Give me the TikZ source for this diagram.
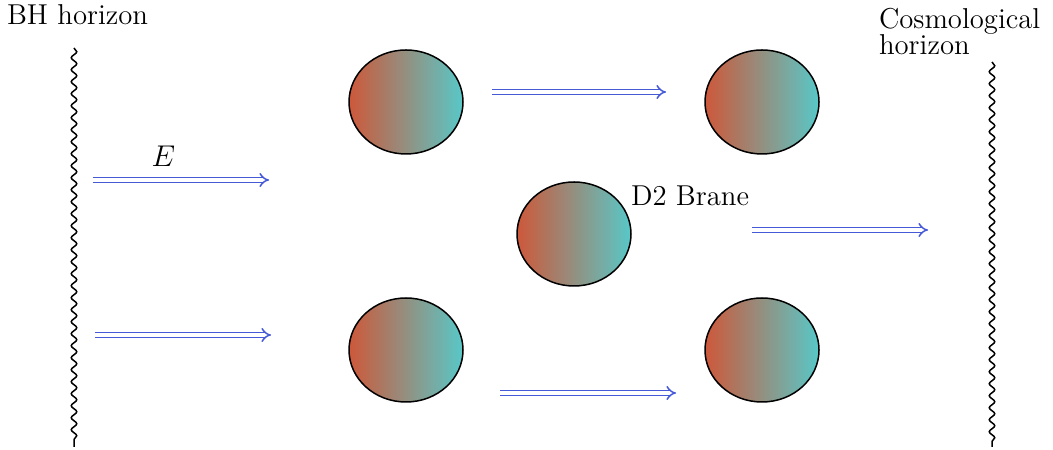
\documentclass[tikz,border=0pt]{standalone}
\usetikzlibrary{arrows.meta,positioning,decorations.pathmorphing,shapes.geometric}

\definecolor{braneRed}{RGB}{205,88,58}
\definecolor{braneCyan}{RGB}{88,200,200}
\definecolor{flowBlue}{RGB}{70,90,215}

\tikzset{
  brane/.style={ellipse,draw=black,line width=0.6pt,minimum width=45.6pt,minimum height=41.6pt,
                left color=braneRed,right color=braneCyan,inner sep=0pt},
  flow/.style={draw=flowBlue,double,double distance=1.3pt,line width=0.6pt,-{Implies}},
  horizon/.style={draw=black,line width=0.6pt,decorate,
                  decoration={snake,amplitude=1.1pt,segment length=4.8pt,post length=2pt}},
  lbl/.style={font=\fontsize{11.5}{13.5}\selectfont,inner sep=1pt}
}

\begin{document}
\begin{tikzpicture}[x=0.4pt,y=-0.4pt,node distance=142.4pt,on grid,auto]
    \useasboundingbox (0,0) rectangle (1053,450);
    \tikzset{every node/.append style={lbl}}

    % horizons
    \coordinate (bhTop) at (74,48);
    \coordinate (bhBot) at (74,447);
    \coordinate (chTop) at (992,62);
    \coordinate (chBot) at (992,447);
    \draw[horizon] (bhTop) -- (bhBot);
    \draw[horizon] (chTop) -- (chBot);
    \node[anchor=north west] (bhLabel) at (4,2) {BH horizon};
    \node[anchor=north west,align=left] (chLabel) at (876,5) {Cosmological\\[-3pt]horizon};

    % branes
    \node[brane] (b1) at (406,102) {};
    \node[brane] (b2) [right=of b1] {};
    \node[brane] (b4) [below=99.2pt of b1] {};
    \node[brane] (b5) [right=of b4] {};
    \node[brane] (b3) at (574,234) {};
    \node[anchor=west] (b3Label) at (628,196) {D2 Brane};

    % flow of the field
    \coordinate (f1s) at (93,180);   \coordinate (f1e) at (269,180);
    \coordinate (f2s) at (492,92);   \coordinate (f2e) at (666,92);
    \coordinate (f3s) at (752,230);  \coordinate (f3e) at (928,230);
    \coordinate (f4s) at (95,335);   \coordinate (f4e) at (271,335);
    \coordinate (f5s) at (500,393);  \coordinate (f5e) at (676,393);

    \draw[flow] (f1s) -- node[pos=0.4,yshift=4pt] {$E$} (f1e);
    \draw[flow] (f2s) -- (f2e);
    \draw[flow] (f3s) -- (f3e);
    \draw[flow] (f4s) -- (f4e);
    \draw[flow] (f5s) -- (f5e);
\end{tikzpicture}
\end{document}
